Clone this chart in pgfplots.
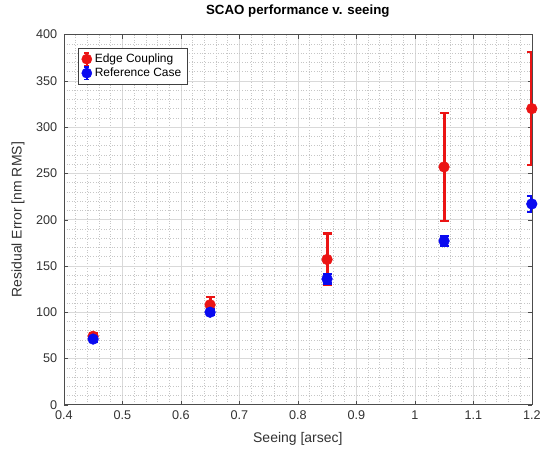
\documentclass[border=0pt]{standalone}
\usepackage{pgfplots}
\pgfplotsset{compat=1.18}
\usepackage{fontspec}
\setmainfont{Liberation Sans}
\definecolor{mred}{RGB}{235,20,20}
\definecolor{mblue}{RGB}{10,10,240}
\definecolor{tickgray}{RGB}{50,50,50}
\begin{document}
\begin{tikzpicture}
\begin{axis}[
  scale only axis, width=351.75pt, height=278.25pt,
  xmin=0.4, xmax=1.2, ymin=0, ymax=400,
  xtick={0.4,0.5,...,1.2}, ytick={0,50,...,400},
  minor x tick num=4, minor y tick num=4,
  grid=both,
  major grid style={gray!30, line width=0.4pt},
  minor grid style={gray!45, line width=0.35pt, dash pattern=on 0.5pt off 1.5pt},
  axis line style={black!70}, tick style={black!70},
  tick align=inside, minor tick length=0pt, major tick length=3pt,
  xticklabel style={/pgf/number format/fixed},
  /pgf/number format/assume math mode=true,
  ticklabel style={font=\fontsize{9.5}{11}\selectfont, text=tickgray},
  yticklabel style={xshift=-1.5pt},
  xticklabel style={yshift=-1pt},
  title={\textbf{SCAO performance v. seeing}},
  title style={font=\fontsize{10}{11}\selectfont, at={(rel axis cs:0.5,1)}, anchor=center, yshift=12pt},
  xlabel={Seeing [arsec]}, ylabel={Residual Error [nm RMS]},
  label style={font=\fontsize{10.5}{12}\selectfont, text=tickgray},
  xlabel style={at={(rel axis cs:0.5,0)}, anchor=center, yshift=-26pt},
  ylabel style={at={(rel axis cs:0,0.5)}, anchor=center, yshift=34.5pt},
  legend style={at={(0.03,0.965)}, anchor=north west, draw=black!75,
    font=\fontsize{9}{10}\selectfont, cells={anchor=west}, row sep=-1.5pt,
    inner sep=2.5pt, text=black},
  legend image code/.code={
    \draw[line width=1.8pt] (0.3cm,-0.17cm) -- (0.3cm,0.17cm);
    \draw[line width=1.2pt] (0.23cm,-0.17cm) -- (0.37cm,-0.17cm)
                            (0.23cm,0.17cm) -- (0.37cm,0.17cm);
    \fill (0.3cm,0cm) circle (3.8pt);
  },
]
\coordinate (ll) at (rel axis cs:0,0);
\coordinate (ur) at (rel axis cs:1,1);
\addplot[mred, only marks, mark=*, mark size=4pt,
  error bars/.cd, y dir=both, y explicit,
  error bar style={line width=2.2pt, mred},
  error mark options={rotate=90, mark size=3.4pt, line width=1.6pt, mred}]
  coordinates {
  (0.45,74) +- (0,3)
  (0.65,108) +- (0,8)
  (0.85,157) +- (0,28)
  (1.05,257) +- (0,58)
  (1.2,320) +- (0,61)
};
\addlegendentry{Edge Coupling}
\addplot[mblue, only marks, mark=*, mark size=4pt,
  error bars/.cd, y dir=both, y explicit,
  error bar style={line width=2.2pt, mblue},
  error mark options={rotate=90, mark size=3.4pt, line width=1.6pt, mblue}]
  coordinates {
  (0.45,71) +- (0,3)
  (0.65,100) +- (0,3)
  (0.85,136) +- (0,5)
  (1.05,177) +- (0,5)
  (1.2,217) +- (0,9)
};
\addlegendentry{Reference Case}
\end{axis}
\path (ll) ++(-48pt,-36pt) (ur) ++(9pt,22.5pt);
\end{tikzpicture}
\end{document}
